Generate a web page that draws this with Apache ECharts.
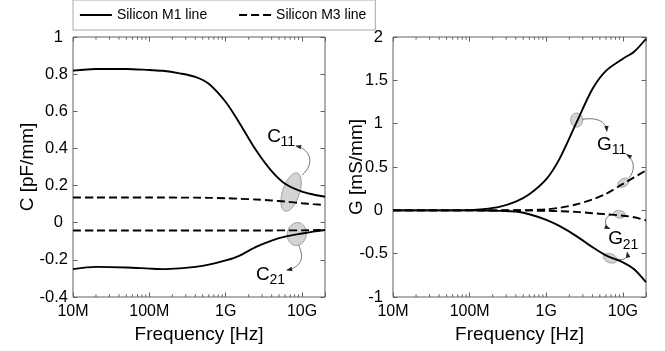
<!DOCTYPE html>
<html>
<head>
<meta charset="utf-8">
<script src="https://cdn.jsdelivr.net/npm/echarts@6/dist/echarts.min.js"></script>
<style>html,body{margin:0;padding:0;background:#fff;}#chart{width:665px;height:351px;}</style>
</head>
<body>
<div id="chart"></div>
<script>
// ---------- data ----------
const freqHz = [1e7, 2e7, 5e7, 1e8, 1.5e8, 2.5e8, 4e8, 6e8, 1e9, 1.5e9, 2.5e9, 4e9, 6e9, 1e10, 1.4e10, 2e10];
const c11M1 = [0.819, 0.828, 0.828, 0.822, 0.818, 0.804, 0.785, 0.748, 0.65, 0.54, 0.39, 0.278, 0.21, 0.167, 0.152, 0.14];
const c11M3 = [0.136, 0.136, 0.136, 0.136, 0.136, 0.135, 0.135, 0.134, 0.132, 0.129, 0.125, 0.12, 0.114, 0.105, 0.1, 0.095];
const c21M1 = [-0.25, -0.238, -0.241, -0.247, -0.25, -0.246, -0.238, -0.226, -0.203, -0.178, -0.13, -0.096, -0.075, -0.058, -0.048, -0.039];
const c21M3 = [-0.042, -0.042, -0.042, -0.042, -0.042, -0.042, -0.042, -0.042, -0.042, -0.042, -0.042, -0.042, -0.041, -0.041, -0.040, -0.039];
const g11M1 = [0, 0, 0, 0.002, 0.012, 0.042, 0.10, 0.185, 0.36, 0.60, 1.02, 1.40, 1.61, 1.75, 1.83, 1.98];
const g11M3 = [0, 0, 0, 0, 0, 0, 0.001, 0.003, 0.012, 0.03, 0.07, 0.125, 0.19, 0.305, 0.38, 0.46];
const g21M1 = [0, 0, 0, 0, -0.002, -0.006, -0.014, -0.045, -0.11, -0.183, -0.30, -0.425, -0.52, -0.60, -0.68, -0.83];
const g21M3 = [0, 0, 0, 0, 0, 0, -0.001, -0.003, -0.006, -0.01, -0.018, -0.033, -0.045, -0.062, -0.08, -0.115];

const xTickExps = [7, 8, 9, 10];
const xTickLabels = ['10M', '100M', '1G', '10G'];
const minorTickHz = [2e7,3e7,4e7,5e7,6e7,7e7,8e7,9e7, 2e8,3e8,4e8,5e8,6e8,7e8,8e8,9e8, 2e9,3e9,4e9,5e9,6e9,7e9,8e9,9e9];
const seriesNames = ['Silicon M1 line', 'Silicon M3 line'];

// annotations: [log10(freq), value, ...]
const cEllipses = [[9.857, 0.165, 8.5, 20, 18], [9.932, -0.061, 9.5, 11.5, 10]];
const cArrows = [
  [[10.001, 0.257], [10.159, 0.311], [10.132, 0.392], [9.923, 0.413]],
  [[9.953, -0.120], [10.001, -0.158], [10.054, -0.233], [9.805, -0.255]]
];
const cLabels = [[9.543, 0.463, 'C', '11'], [9.398, -0.279, 'C', '21']];
const gEllipses = [[9.397, 1.042, 6, 7, 0], [10.007, 0.319, 6, 4, -30], [9.954, -0.046, 6, 3.8, 10], [9.833, -0.553, 7, 4.5, 20]];
const gArrows = [
  [[9.471, 1.050], [9.650, 1.077], [9.780, 1.031], [9.790, 0.916]],
  [[10.072, 0.370], [10.160, 0.442], [10.160, 0.581], [10.051, 0.644]],
  [[9.872, -0.046], [9.754, -0.054], [9.741, -0.181], [9.826, -0.210]],
  [[9.924, -0.562], [10.029, -0.585], [10.068, -0.539], [10.055, -0.487]]
];
const gLabels = [[9.663, 0.762, 'G', '11'], [9.807, -0.333, 'G', '21']];

// ---------- helpers ----------
const FONT = 'Liberation Sans, Arial, Helvetica, sans-serif';
const AX = '#606060';
const pairs = (ys) => freqHz.map((f, i) => [f, ys[i]]);
const p10 = (e) => Math.pow(10, e);

function xFmt(v) {
  const e = Math.log10(v), r = Math.round(e);
  if (Math.abs(e - r) > 1e-6) return '';
  const i = xTickExps.indexOf(r);
  return i >= 0 ? xTickLabels[i] : '';
}
function yFmt(v) {
  const r = Math.round(v * 100) / 100;
  return Number.isInteger(r) ? '{i|' + r + '}' : String(r);
}

function ellipsePts(cx, cy, rx, ry, deg) {
  const t = deg * Math.PI / 180, pts = [];
  for (let i = 0; i < 60; i++) {
    const a = i / 60 * 2 * Math.PI;
    const x = rx * Math.cos(a), y = ry * Math.sin(a);
    pts.push([cx + x * Math.cos(t) - y * Math.sin(t), cy + x * Math.sin(t) + y * Math.cos(t)]);
  }
  return pts;
}

function makeAnnotRender(ellipses, arrows, labels) {
  return function (params, api) {
    const co = (p) => api.coord([p10(p[0]), p[1]]);
    const children = [];
    ellipses.forEach(e => {
      const c = co(e);
      children.push({type: 'polygon', shape: {points: ellipsePts(c[0], c[1], e[2], e[3], e[4])},
        style: {fill: '#d4d4d4', stroke: '#8a8a8a', lineWidth: 0.8}});
    });
    arrows.forEach(a => {
      const s = co(a[0]), c1 = co(a[1]), c2 = co(a[2]), e = co(a[3]);
      children.push({type: 'bezierCurve', shape: {x1: s[0], y1: s[1], cpx1: c1[0], cpy1: c1[1], cpx2: c2[0], cpy2: c2[1], x2: e[0], y2: e[1]},
        style: {stroke: '#666', lineWidth: 0.9, fill: null}});
      let dx = e[0] - c2[0], dy = e[1] - c2[1];
      const L = Math.hypot(dx, dy) || 1; dx /= L; dy /= L;
      const bx = e[0] - dx * 5, by = e[1] - dy * 5, nx = -dy * 2.2, ny = dx * 2.2;
      children.push({type: 'polygon', shape: {points: [[e[0] + dx, e[1] + dy], [bx + nx, by + ny], [bx - nx, by - ny]]},
        style: {fill: '#222'}});
    });
    labels.forEach(l => {
      const c = co(l);
      const w = l[2] === 'G' ? 14.6 : 13.4;
      children.push({type: 'text', x: c[0], y: c[1], style: {text: l[2], fontSize: 19, fontFamily: FONT, fill: '#000', align: 'left', verticalAlign: 'middle'}});
      children.push({type: 'text', x: c[0] + w, y: c[1] + 5.5, style: {text: l[3], fontSize: 14, fontFamily: FONT, fill: '#000', align: 'left', verticalAlign: 'middle'}});
    });
    return {type: 'group', children};
  };
}

function minorRender(params, api) {
  const cs = params.coordSys;
  const x = api.coord([api.value(0), 0])[0];
  const top = cs.y, bot = cs.y + cs.height;
  return {type: 'group', children: [
    {type: 'line', shape: {x1: x, y1: bot, x2: x, y2: bot - 2.7}, style: {stroke: AX, lineWidth: 1}},
    {type: 'line', shape: {x1: x, y1: top, x2: x, y2: top + 2.7}, style: {stroke: AX, lineWidth: 1}}
  ]};
}

function xAxisDef(gi, pos) {
  const main = pos === 'bottom';
  return {
    type: 'log', logBase: 10, gridIndex: gi, position: pos, min: 1e7, max: 2e10,
    name: main ? 'Frequency [Hz]' : '', nameLocation: 'middle', nameGap: 28, nameMoveOverlap: false,
    nameTextStyle: {fontSize: 19, fontFamily: FONT, color: '#000'},
    axisLine: {show: false, onZero: false},
    axisTick: {show: true, inside: true, length: 4.5, lineStyle: {color: AX}},
    axisLabel: {show: main, margin: 7, fontSize: 16, fontFamily: FONT, color: '#000', formatter: xFmt, showMinLabel: true, showMaxLabel: true, hideOverlap: false},
    splitLine: {show: false}, minorTick: {show: false}
  };
}
function yAxisDef(gi, pos, min, max, interval, name, nameGap) {
  const main = pos === 'left';
  return {
    type: 'value', gridIndex: gi, position: pos, min, max, interval,
    name: main ? name : '', nameLocation: 'middle', nameGap, nameMoveOverlap: false,
    nameTextStyle: {fontSize: 19, fontFamily: FONT, color: '#000'},
    axisLine: {show: false, onZero: false},
    axisTick: {show: true, inside: true, length: 4.5, lineStyle: {color: AX}},
    axisLabel: {show: main, margin: 5, fontSize: 16.5, fontFamily: FONT, color: '#000', formatter: yFmt, hideOverlap: false,
      rich: {i: {fontSize: 16.5, fontFamily: FONT, color: '#000', padding: [0, 5, 0, 0]}}},
    splitLine: {show: false}
  };
}

function lineSeries(name, xi, yi, ys, dashed) {
  return {
    name, type: 'line', xAxisIndex: xi, yAxisIndex: yi, data: pairs(ys),
    showSymbol: false, symbol: 'none', smooth: 0.3, z: 3, animation: false,
    lineStyle: {color: '#000', width: 1.9, type: dashed ? [8, 4] : 'solid'},
    itemStyle: {color: '#000'}
  };
}

const option = {
  backgroundColor: '#fff',
  animation: false,
  legend: {
    data: seriesNames, left: 73, top: 0, orient: 'horizontal',
    itemWidth: 32, itemHeight: 14, itemGap: 31, padding: [8, 9, 8, 6],
    borderColor: '#aaa', borderWidth: 1, backgroundColor: '#fff',
    itemStyle: {opacity: 0, borderWidth: 0},
    lineStyle: {width: 1.8},
    textStyle: {fontSize: 14, fontFamily: FONT, color: '#000'}
  },
  grid: [
    {left: 73, top: 37, width: 252, height: 260, show: true, borderColor: AX, borderWidth: 1, outerBoundsMode: 'none', containLabel: false},
    {left: 393, top: 37, width: 253, height: 260, show: true, borderColor: AX, borderWidth: 1, outerBoundsMode: 'none', containLabel: false}
  ],
  xAxis: [xAxisDef(0, 'bottom'), xAxisDef(0, 'top'), xAxisDef(1, 'bottom'), xAxisDef(1, 'top')],
  yAxis: [
    yAxisDef(0, 'left', -0.4, 1, 0.2, 'C [pF/mm]', 36),
    yAxisDef(0, 'right', -0.4, 1, 0.2, '', 0),
    yAxisDef(1, 'left', -1, 2, 0.5, 'G [mS/mm]', 27),
    yAxisDef(1, 'right', -1, 2, 0.5, '', 0)
  ],
  series: [
    {type: 'custom', xAxisIndex: 0, yAxisIndex: 0, data: minorTickHz.map(f => [f]), renderItem: minorRender, z: 4, silent: true},
    {type: 'custom', xAxisIndex: 2, yAxisIndex: 2, data: minorTickHz.map(f => [f]), renderItem: minorRender, z: 4, silent: true},
    {type: 'custom', xAxisIndex: 0, yAxisIndex: 0, data: [[1e9, 0]], renderItem: makeAnnotRender(cEllipses, cArrows, cLabels), z: 1, silent: true},
    {type: 'custom', xAxisIndex: 2, yAxisIndex: 2, data: [[1e9, 0]], renderItem: makeAnnotRender(gEllipses, gArrows, gLabels), z: 1, silent: true},
    lineSeries(seriesNames[0], 0, 0, c11M1, false),
    lineSeries(seriesNames[1], 0, 0, c11M3, true),
    lineSeries(seriesNames[0], 0, 0, c21M1, false),
    lineSeries(seriesNames[1], 0, 0, c21M3, true),
    lineSeries(seriesNames[0], 2, 2, g11M1, false),
    lineSeries(seriesNames[1], 2, 2, g11M3, true),
    lineSeries(seriesNames[0], 2, 2, g21M1, false),
    lineSeries(seriesNames[1], 2, 2, g21M3, true)
  ]
};

const chart = echarts.init(document.getElementById('chart'), null, {renderer: 'canvas'});
chart.setOption(option);
</script>
</body>
</html>
